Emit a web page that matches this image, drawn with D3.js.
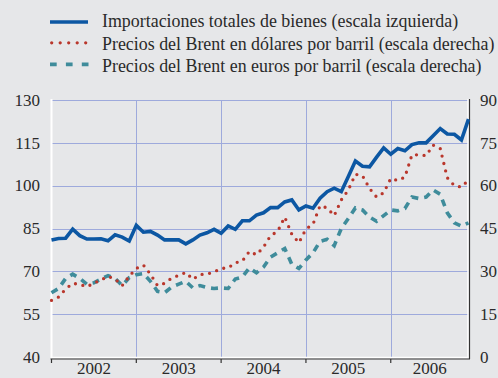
<!DOCTYPE html>
<html>
<head>
<meta charset="utf-8">
<script src="https://cdn.jsdelivr.net/npm/d3@7"></script>
<style>
  html, body { margin: 0; padding: 0; background: #e6e7e9; }
  svg { display: block; }
</style>
</head>
<body>
<svg id="chart" width="498" height="378"></svg>
<script>
// Monthly series, January 2002 – December 2006
const years = ["2002", "2003", "2004", "2005", "2006"];

// Total goods imports (left scale)
const importaciones = [
  81.0, 81.5, 81.6, 84.8, 82.5, 81.3, 81.3, 81.4, 80.7, 82.8, 82.0, 80.6,
  86.1, 83.7, 84.0, 82.7, 81.0, 81.0, 81.0, 79.6, 81.0, 82.7, 83.5, 84.7,
  83.3, 85.9, 84.7, 87.7, 87.7, 89.7, 90.5, 92.3, 92.3, 94.3, 95.0, 91.5,
  92.9, 92.1, 95.6, 97.9, 99.1, 97.9, 103.2, 108.6, 106.8, 106.6, 110.0, 113.2,
  111.0, 113.0, 112.2, 114.4, 115.0, 115.0, 117.5, 120.0, 118.1, 118.0, 116.0, 123.3
];

// Brent, dollars per barrel (right scale)
const brentDolares = [
  19.8, 21.0, 23.8, 25.8, 25.4, 24.6, 25.8, 27.0, 28.2, 27.3, 25.0, 28.3,
  31.0, 32.2, 29.0, 25.0, 25.8, 27.6, 28.6, 29.6, 27.2, 28.9, 29.0, 29.8,
  31.0, 31.2, 33.0, 33.6, 37.0, 35.8, 38.5, 42.5, 44.0, 49.0, 43.0, 40.0,
  44.8, 46.5, 53.0, 52.2, 49.5, 55.0, 58.5, 64.0, 63.5, 59.0, 56.0, 57.5,
  62.5, 61.8, 63.0, 70.8, 70.8, 70.5, 74.2, 73.0, 62.8, 60.0, 59.5, 62.0
];

// Brent, euros per barrel (right scale)
const brentEuros = [
  22.5, 24.0, 27.5, 29.0, 27.5, 25.5, 26.0, 27.3, 28.5, 27.5, 25.0, 27.8,
  28.8, 29.2, 26.5, 23.0, 22.5, 24.5, 25.5, 26.5, 24.2, 25.0, 24.3, 24.0,
  24.2, 24.0, 27.3, 28.0, 31.2, 29.5, 31.5, 35.0, 36.5, 38.0, 32.5, 31.0,
  34.0, 36.5, 40.5, 41.2, 39.0, 45.0, 48.5, 52.2, 51.5, 49.0, 47.5, 49.5,
  51.5, 51.2, 52.0, 56.0, 55.5, 56.0, 58.5, 57.0, 50.5, 47.0, 45.8, 47.0
];

const leftTicks = [40, 55, 70, 85, 100, 115, 130];
const rightTicks = [0, 15, 30, 45, 60, 75, 90];

const legendLabels = [
  "Importaciones totales de bienes (escala izquierda)",
  "Precios del Brent en dólares por barril (escala derecha)",
  "Precios del Brent en euros por barril (escala derecha)"
];

const colors = { imp: "#0c57a3", usd: "#b9372c", eur: "#3f8c9b", grid: "#9eaadc" };
const FONT = "'Liberation Serif', 'Times New Roman', serif";
const textFill = "#2a2a2a";

const svg = d3.select("#chart").attr("font-family", FONT);
const plotLeft = 51.5, plotRight = 468.5, plotTop = 100, plotBottom = 357;

const x = d3.scaleLinear().domain([0, importaciones.length - 1]).range([plotLeft, plotRight]);
const yL = d3.scaleLinear().domain([40, 130]).range([plotBottom, plotTop]);
const yR = d3.scaleLinear().domain([0, 90]).range([plotBottom, plotTop]);

// grid
const g = svg.append("g");
g.selectAll("line.h").data(leftTicks.slice(1)).join("line")
  .attr("x1", plotLeft).attr("x2", plotRight)
  .attr("y1", d => Math.round(yL(d)) + 0.5).attr("y2", d => Math.round(yL(d)) + 0.5)
  .attr("stroke", colors.grid).attr("stroke-width", 1);
const yearStarts = years.map((_, i) => i * 12);
g.selectAll("line.v").data(yearStarts.slice(1)).join("line")
  .attr("x1", d => Math.round(x(d)) + 0.5).attr("x2", d => Math.round(x(d)) + 0.5)
  .attr("y1", plotTop).attr("y2", plotBottom)
  .attr("stroke", colors.grid).attr("stroke-width", 1);

// frame: white inner edge, dark outer edge
svg.append("line").attr("x1", plotLeft).attr("x2", plotLeft).attr("y1", plotTop - 1).attr("y2", plotBottom + 1)
  .attr("stroke", "#ffffff").attr("stroke-width", 2);
svg.append("line").attr("x1", plotRight - 0.5).attr("x2", plotRight - 0.5).attr("y1", plotTop - 1).attr("y2", plotBottom)
  .attr("stroke", "#ffffff").attr("stroke-width", 1.5);
svg.append("line").attr("x1", plotRight + 1).attr("x2", plotRight + 1).attr("y1", plotTop - 1).attr("y2", plotBottom + 2)
  .attr("stroke", "#333333").attr("stroke-width", 1.2);
svg.append("line").attr("x1", plotLeft).attr("x2", plotRight).attr("y1", plotBottom + 0.5).attr("y2", plotBottom + 0.5)
  .attr("stroke", "#ffffff").attr("stroke-width", 1.5);
svg.append("line").attr("x1", plotLeft - 1).attr("x2", plotRight + 1.5).attr("y1", plotBottom + 2).attr("y2", plotBottom + 2)
  .attr("stroke", "#333333").attr("stroke-width", 1.2);

// year ticks
svg.selectAll("line.tick").data(yearStarts).join("line")
  .attr("x1", d => x(d)).attr("x2", d => x(d))
  .attr("y1", plotBottom + 2).attr("y2", plotBottom + 6)
  .attr("stroke", "#333333").attr("stroke-width", 1.2);

// axis labels
svg.selectAll("text.yl").data(leftTicks).join("text")
  .attr("class", "yl")
  .attr("x", 40).attr("y", d => yL(d)).attr("dy", "0.34em")
  .attr("text-anchor", "end").attr("font-size", 17).attr("fill", textFill).text(d => d);
svg.selectAll("text.yr").data(rightTicks).join("text")
  .attr("class", "yr")
  .attr("x", 480).attr("y", d => yR(d)).attr("dy", "0.34em")
  .attr("text-anchor", "start").attr("font-size", 17).attr("fill", textFill).text(d => d);
svg.selectAll("text.yr2").data(years).join("text")
  .attr("class", "yr2")
  .attr("x", (d, i) => (x(i * 12) + x(Math.min((i + 1) * 12, 59))) / 2)
  .attr("y", 374).attr("text-anchor", "middle").attr("font-size", 17).attr("fill", textFill).text(d => d);

// series
const lineL = d3.line().x((d, i) => x(i)).y(d => yL(d));
const lineR = d3.line().x((d, i) => x(i)).y(d => yR(d));

svg.append("path").datum(brentEuros).attr("d", lineR)
  .attr("fill", "none").attr("stroke", colors.eur).attr("stroke-width", 3.6)
  .attr("stroke-dasharray", "7,6");
svg.append("path").datum(brentDolares).attr("d", lineR)
  .attr("fill", "none").attr("stroke", colors.usd).attr("stroke-width", 3.3)
  .attr("stroke-linecap", "round").attr("stroke-dasharray", "0,7.6");
svg.append("path").datum(importaciones).attr("d", lineL)
  .attr("fill", "none").attr("stroke", colors.imp).attr("stroke-width", 3.6)
  .attr("stroke-linejoin", "miter");

// legend
const legY = [22, 42.8, 64.4];
const legBase = [27.4, 49.5, 71.8];
const leg = svg.append("g");
leg.append("line").attr("x1", 50).attr("x2", 88).attr("y1", legY[0]).attr("y2", legY[0])
  .attr("stroke", colors.imp).attr("stroke-width", 3.6);
leg.append("line").attr("x1", 51.7).attr("x2", 88).attr("y1", legY[1]).attr("y2", legY[1])
  .attr("stroke", colors.usd).attr("stroke-width", 3.3)
  .attr("stroke-linecap", "round").attr("stroke-dasharray", "0,8.5");
leg.append("line").attr("x1", 50).attr("x2", 88.5).attr("y1", legY[2]).attr("y2", legY[2])
  .attr("stroke", colors.eur).attr("stroke-width", 3.6).attr("stroke-dasharray", "6.7,9.2");
leg.selectAll("text").data(legendLabels).join("text")
  .attr("x", 102).attr("y", (d, i) => legBase[i])
  .attr("font-size", 17.9).attr("fill", textFill).text(d => d);
</script>
</body>
</html>
